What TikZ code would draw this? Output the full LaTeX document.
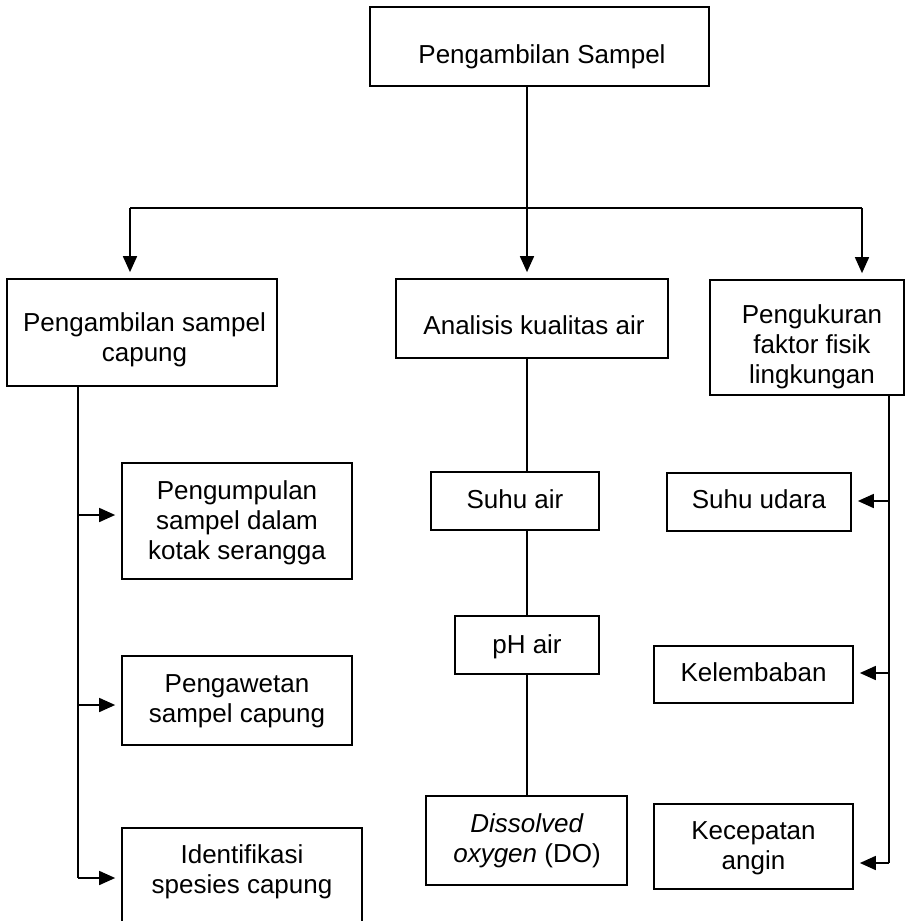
\documentclass[tikz,border=0pt]{standalone}
\usepackage{fontspec}
\setmainfont{Liberation Sans}
\usetikzlibrary{arrows.meta}
\begin{document}
\begin{tikzpicture}[x=1pt,y=-1pt,
  box/.style={draw,line width=1.7pt,inner sep=0pt},
  txt/.style={inner sep=0pt,align=center,font=\fontsize{26}{30}\selectfont},
  ln/.style={line width=1.7pt},
  arr/.style={line width=1.7pt,-{Triangle[length=16pt,width=14pt]},shorten >=6pt}]
\useasboundingbox (0,0) rectangle (905,921);
% boxes
\node[box,minimum width=339pt,minimum height=79pt] (top) at (539.5,46.5) {};
\node[box,minimum width=270pt,minimum height=107pt] (L1) at (142,332.5) {};
\node[box,minimum width=272pt,minimum height=79pt] (M1) at (532,318.5) {};
\node[box,minimum width=194pt,minimum height=115pt] (R1) at (807,337.5) {};
\node[box,minimum width=230pt,minimum height=116pt] (L2) at (237,521) {};
\node[box,minimum width=230pt,minimum height=89pt] (L3) at (237,700.5) {};
\node[box,minimum width=240pt,minimum height=110pt,anchor=north] (L4) at (242,827) {};
\node[box,minimum width=168pt,minimum height=58pt] (M2) at (515,501) {};
\node[box,minimum width=144pt,minimum height=58pt] (M3) at (527,645) {};
\node[box,minimum width=201pt,minimum height=89pt] (M4) at (526.5,840.5) {};
\node[box,minimum width=184pt,minimum height=58pt] (R2) at (759,502) {};
\node[box,minimum width=199pt,minimum height=57pt] (R3) at (753.5,674.5) {};
\node[box,minimum width=199pt,minimum height=85pt] (R4) at (753.5,846.5) {};
% texts
\node[txt] (topt) at (542,56.5) {Pengambilan Sampel};
\node[txt] (L1t) at (144.5,340) {Pengambilan sampel\\capung};
\node[txt] (M1t) at (534,325.5) {Analisis kualitas air};
\node[txt] (R1t) at (812,346.5) {Pengukuran\\faktor fisik\\lingkungan};
\node[txt] (L2t) at (237,523) {Pengumpulan\\sampel dalam\\kotak serangga};
\node[txt] (L3t) at (237,701) {Pengawetan\\sampel capung};
\node[txt] (L4t) at (242,872) {Identifikasi\\spesies capung};
\node[txt] (M2t) at (515,498.7) {Suhu air};
\node[txt] (M3t) at (527,646.5) {pH air};
\node[txt] (M4t) at (527,840.5) {\textit{Dissolved}\\\textit{oxygen} (DO)};
\node[txt] (R2t) at (759,498.7) {Suhu udara};
\node[txt] (R3t) at (753.5,671.7) {Kelembaban};
\node[txt] (R4t) at (753.5,848.5) {Kecepatan\\angin};
% coordinates
\coordinate (tj) at (527,208);
\coordinate (tl) at (130,208);
\coordinate (tr) at (862,208);
\coordinate (ls) at (78,386);
\coordinate (a2) at (78,515);
\coordinate (a3) at (78,705);
\coordinate (a4) at (78,878);
\coordinate (rs) at (889,395);
\coordinate (b2) at (889,501);
\coordinate (b3) at (889,673);
\coordinate (b4) at (889,863);
% connectors top
\draw[ln] (tj |- top.south) -- (tj);
\draw[ln] (tl) -- (tr);
\draw[arr] (tl) -- (tl |- L1.north);
\draw[arr] (tj) -- (tj |- M1.north);
\draw[arr] (tr) -- (tr |- R1.north);
% left spine
\draw[ln] (ls) -- (a4);
\draw[arr] (a2) -- (a2 -| L2.west);
\draw[arr] (a3) -- (a3 -| L3.west);
\draw[arr] (a4) -- (a4 -| L4.west);
% middle chain
\draw[ln] (tj |- M1.south) -- (tj |- M2.north);
\draw[ln] (tj |- M2.south) -- (tj |- M3.north);
\draw[ln] (tj |- M3.south) -- (tj |- M4.north);
% right spine
\draw[ln] (rs) -- (b4);
\draw[arr] (b2) -- (b2 -| R2.east);
\draw[arr] (b3) -- (b3 -| R3.east);
\draw[arr] (b4) -- (b4 -| R4.east);
\end{tikzpicture}
\end{document}
